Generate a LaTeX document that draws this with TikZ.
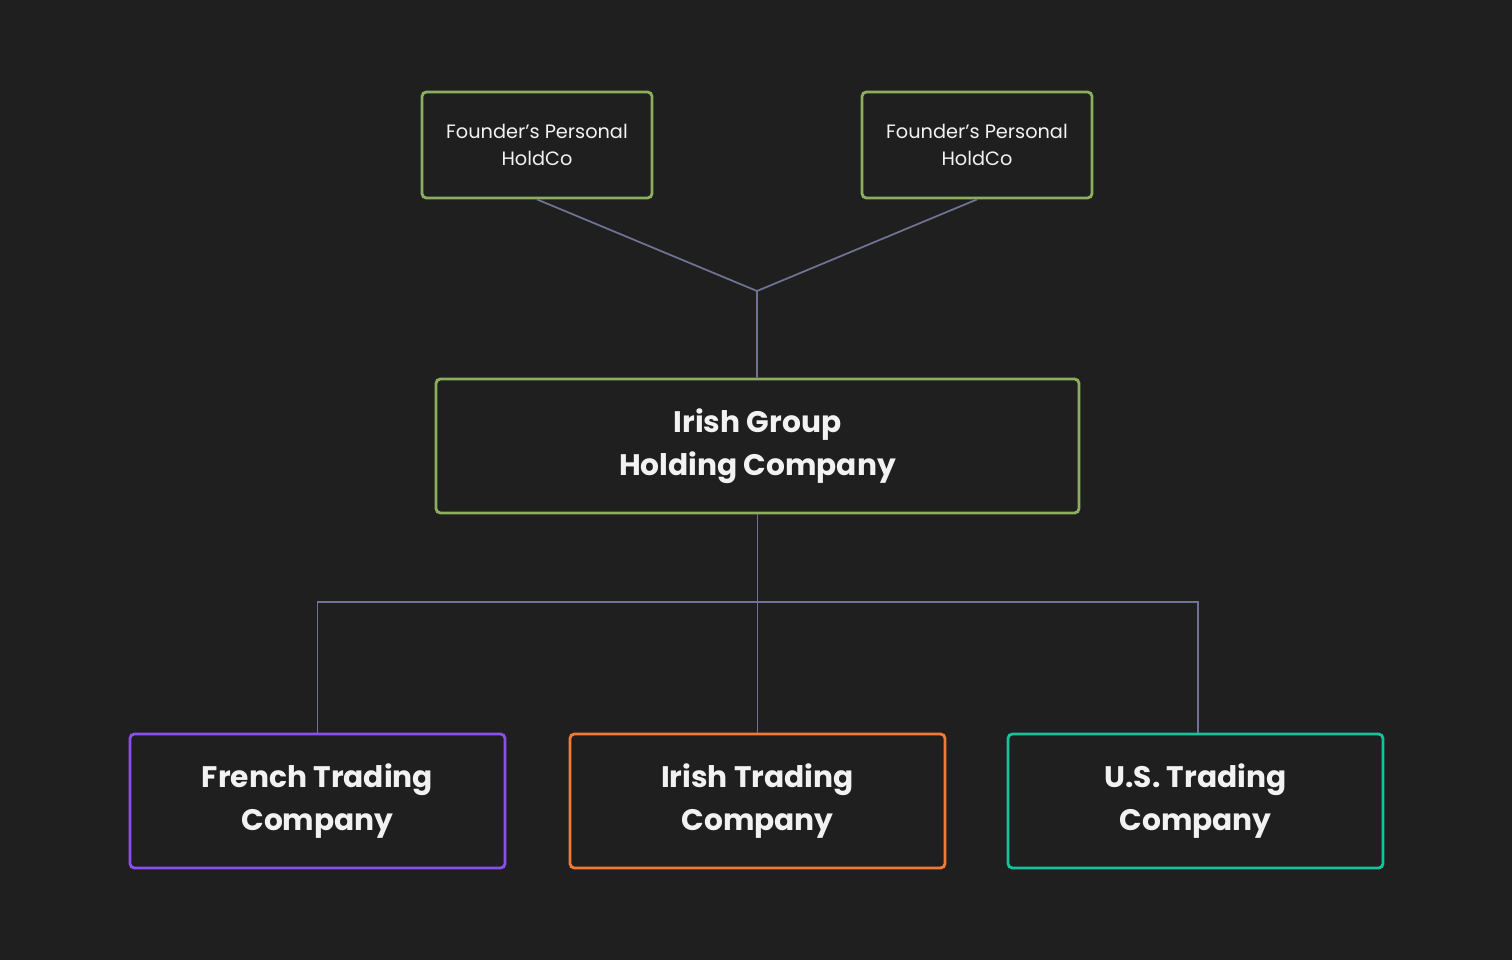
\documentclass[tikz,border=0pt]{standalone}
\usepackage{fontspec}
\setmainfont{Poppins}
\usepackage{tikz}
\usetikzlibrary{arrows.meta, positioning, calc}
\usepackage{xcolor}

\definecolor{bgdark}{HTML}{1F1F1F}
\definecolor{holdgreen}{HTML}{8DAE5E}
\definecolor{frpurple}{HTML}{8A4FF0}
\definecolor{ieorange}{HTML}{F07A36}
\definecolor{usteal}{HTML}{14C39A}
\definecolor{linkgray}{HTML}{6E7394}
\definecolor{textwhite}{HTML}{F2F2F2}

\begin{document}
\begin{tikzpicture}[
  x=0.02cm, y=-0.02cm,
  box/.style={rectangle, draw, line width=1.6pt, rounded corners=2.5pt,
              fill=bgdark, align=center, text=textwhite},
  smallbox/.style={box, draw=holdgreen, minimum width=230*0.02cm,
              minimum height=106*0.02cm, font=\fontsize{11}{15.8}\selectfont},
  bigbox/.style={box, minimum width=375*0.02cm, minimum height=134*0.02cm,
              font=\fontsize{16.9}{24.4}\selectfont\bfseries},
  link/.style={draw=linkgray, line width=1pt}
]

% background
\fill[bgdark] (0,0) rectangle (1512,960);

% owners
\node[smallbox] (found1) at (537,145) {Founder's Personal\\HoldCo};
\node[smallbox] (found2) at (977,145) {Founder's Personal\\HoldCo};

% group holding
\node[bigbox, draw=holdgreen, minimum width=643*0.02cm] (group) at (757.5,446)
  {Irish Group\\Holding Company};

% trading companies
\node[bigbox, draw=frpurple] (french) at (317.5,801) {French Trading\\Company};
\node[bigbox, draw=ieorange] (irish) at (757.5,801) {Irish Trading\\Company};
\node[bigbox, draw=usteal] (us) at (1195.5,801) {U.S. Trading\\Company};

\coordinate (join) at (757,291);
\coordinate (bus) at (757.5,602);

\draw[link] (found1.south) -- (join) -- (join |- group.north);
\draw[link] (found2.south) -- (join);
\draw[link] (group.south) -- (bus);
\draw[link] (french.north) |- (bus) -| ([xshift=2.5*0.02cm]us.north);
\draw[link] (bus) -- (irish.north);

\end{tikzpicture}
\end{document}
